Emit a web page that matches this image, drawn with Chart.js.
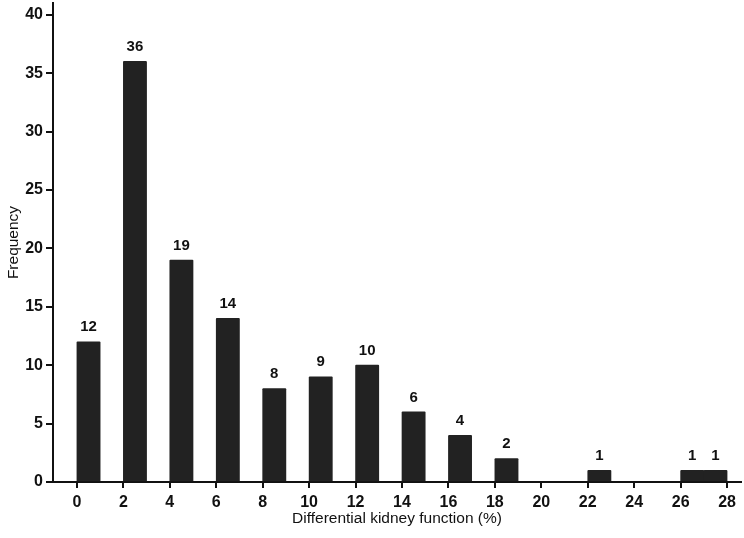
<!DOCTYPE html>
<html>
<head>
<meta charset="utf-8">
<script src="https://cdn.jsdelivr.net/npm/chart.js@4"></script>
<style>
  html, body { margin: 0; padding: 0; background: #fff; }
  #wrap { width: 744px; height: 538px; }
</style>
</head>
<body>
<div id="wrap"><canvas id="chart" width="744" height="538"></canvas></div>
<script>
// bin start (%) of each bar, each bin is 1% wide
const binStarts = [0, 2, 4, 6, 8, 10, 12, 14, 16, 18, 22, 26, 27];
const frequencies = [12, 36, 19, 14, 8, 9, 10, 6, 4, 2, 1, 1, 1];
const xTicks = [0, 2, 4, 6, 8, 10, 12, 14, 16, 18, 20, 22, 24, 26, 28];
const yTicks = [0, 5, 10, 15, 20, 25, 30, 35, 40];

const FONT = 'Liberation Sans, Arial, sans-serif';

const barLabels = {
    id: 'barLabels',
    afterDatasetsDraw(chart) {
        const ctx = chart.ctx;
        const meta = chart.getDatasetMeta(0);
        ctx.save();
        ctx.fillStyle = '#111';
        ctx.font = 'bold 15px ' + FONT;
        ctx.textAlign = 'center';
        ctx.textBaseline = 'bottom';
        meta.data.forEach((bar, i) => {
            ctx.fillText(String(frequencies[i]), bar.x, bar.y - 7);
        });
        ctx.restore();
    }
};

new Chart(document.getElementById('chart'), {
    type: 'bar',
    data: {
        datasets: [{
            data: binStarts.map((b, i) => ({ x: b + 0.5, y: frequencies[i] })),
            backgroundColor: '#222',
            borderColor: '#222',
            borderWidth: 0,
            borderRadius: 1,
            barPercentage: 1,
            categoryPercentage: 1
        }]
    },
    options: {
        responsive: false,
        animation: false,
        layout: { padding: { top: 3, right: 3, left: 0, bottom: 6 } },
        plugins: { legend: { display: false }, tooltip: { enabled: false } },
        scales: {
            x: {
                type: 'linear',
                offset: false,
                min: -1.03,
                max: 28.6,
                afterBuildTicks: s => { s.ticks = xTicks.map(v => ({ value: v })); },
                afterFit: s => { s.height = 50; s.paddingLeft = 0; s.paddingRight = 0; },
                grid: { offset: false, drawOnChartArea: false, drawTicks: true, tickLength: 6, color: '#111', lineWidth: 2 },
                border: { display: true, color: '#111', width: 2 },
                ticks: { color: '#111', font: { family: FONT, size: 16, weight: 'bold' }, padding: 5, maxRotation: 0 },
                title: { display: true, text: 'Differential kidney function (%)', color: '#111', font: { family: FONT, size: 15.5 }, padding: { top: 4 } }
            },
            y: {
                min: 0,
                max: 41,
                afterBuildTicks: s => { s.ticks = yTicks.map(v => ({ value: v })); },
                afterFit: s => { s.width = 53; s.paddingTop = 0; s.paddingBottom = 0; },
                grid: { drawOnChartArea: false, drawTicks: true, tickLength: 7, color: '#111', lineWidth: 2 },
                border: { display: true, color: '#111', width: 2 },
                ticks: { color: '#111', font: { family: FONT, size: 16, weight: 'bold' }, padding: 3 },
                title: { display: true, text: 'Frequency', color: '#111', font: { family: FONT, size: 15.5 }, padding: { bottom: 0 } }
            }
        }
    },
    plugins: [barLabels]
});
</script>
</body>
</html>
